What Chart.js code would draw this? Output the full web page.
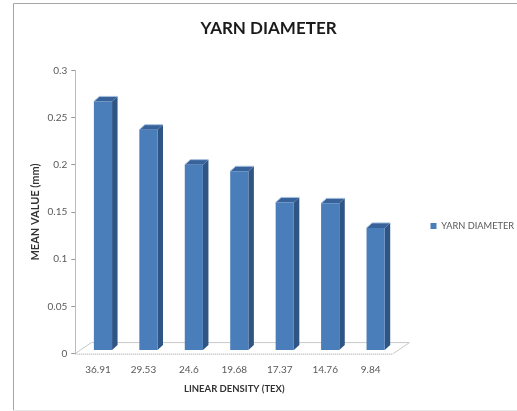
<!DOCTYPE html>
<html>
<head>
<meta charset="utf-8">
<style>
html, body { margin: 0; padding: 0; background: #fff; overflow: hidden; }
#wrap { width: 517px; height: 411px; }
#myChart { filter: blur(0.5px); }
</style>
<script src="https://cdn.jsdelivr.net/npm/chart.js@4"></script>
</head>
<body>
<div id="wrap"><canvas id="myChart" width="517" height="411"></canvas></div>
<script>
const categories = ['36.91', '29.53', '24.6', '19.68', '17.37', '14.76', '9.84'];
const yarnDiameter = [0.264, 0.234, 0.197, 0.19, 0.157, 0.156, 0.13];
const seriesName = 'YARN DIAMETER';

// old excel look: the 3d box sides, floor and picture frame are not in chart.js
const fake3d = {
    id: 'fake3d',
    afterLayout(chart) {
        // legend sits well clear of the plot in the original
        const l = chart.legend, dx = 426.5 - l.left, dy = 226 - (l.top + l.bottom) / 2;
        l.left += dx;
        l.right += dx;
        l.top += dy;
        l.bottom += dy;
        // title is centred on the whole picture, not on the plot
        chart.titleBlock.left += 8.5;
        chart.titleBlock.right += 8.5;
    },
    beforeDraw(chart) {
        const c = chart.ctx;
        c.save();
        c.strokeStyle = '#a6a6a6';
        c.lineWidth = 1;
        c.beginPath();
        c.moveTo(13.5, 411);
        c.lineTo(13.5, 3.5);
        c.lineTo(517, 3.5);
        c.stroke();
        c.strokeStyle = '#e8e8e8';
        c.beginPath();
        c.moveTo(13, 410.5);
        c.lineTo(517, 410.5);
        c.stroke();
        c.restore();
    },
    beforeDatasetsDraw(chart) {
        const c = chart.ctx, a = chart.chartArea;
        c.save();
        // floor
        c.strokeStyle = '#c8c8c8';
        c.lineWidth = 1;
        c.beginPath();
        c.moveTo(a.left, a.bottom);
        c.lineTo(a.left + 16, a.bottom - 11);
        c.lineTo(a.right + 16, a.bottom - 11);
        c.lineTo(a.right, a.bottom);
        c.stroke();
        c.setLineDash([1, 1]);
        c.strokeStyle = '#999';
        c.beginPath();
        c.moveTo(a.left, a.bottom + 0.5);
        c.lineTo(a.right, a.bottom + 0.5);
        c.stroke();
        c.setLineDash([]);
        // bars sit in the middle of the floor
        c.translate(5, -3);
        chart.getDatasetMeta(0).data.forEach(function(b) {
            const l = b.x - b.width / 2, r = b.x + b.width / 2;
            c.fillStyle = '#2f5584';
            c.beginPath();
            c.moveTo(r, b.y);
            c.lineTo(r + 5.5, b.y - 5);
            c.lineTo(r + 5.5, b.base - 5);
            c.lineTo(r, b.base);
            c.closePath();
            c.fill();
            c.fillStyle = '#37629a';
            c.strokeStyle = '#a9c2e0';
            c.beginPath();
            c.moveTo(l, b.y);
            c.lineTo(l + 5.5, b.y - 5);
            c.lineTo(r + 5.5, b.y - 5);
            c.lineTo(r, b.y);
            c.closePath();
            c.fill();
            c.beginPath();
            c.moveTo(l, b.y);
            c.lineTo(l + 5.5, b.y - 5);
            c.lineTo(r + 5.5, b.y - 5);
            c.stroke();
        });
    },
    afterDatasetsDraw(chart) {
        chart.ctx.restore();
    }
};

const ctx = document.getElementById('myChart');

new Chart(ctx, {
    type: 'bar',
    plugins: [fake3d],
    data: {
        labels: categories,
        datasets: [{
            label: seriesName,
            data: yarnDiameter,
            backgroundColor: '#4a7ebb',
            borderWidth: 0,
            categoryPercentage: 1,
            barPercentage: 0.4,
            clip: false
        }]
    },
    options: {
        responsive: false,
        animation: false,
        layout: { padding: { left: 29, right: 26, top: 18, bottom: 16 } },
        plugins: {
            title: {
                display: true,
                text: seriesName,
                color: '#1a1a1a',
                font: { family: 'Lato', size: 17, weight: 'bold' },
                padding: { top: 0, bottom: 32 }
            },
            legend: {
                position: 'right',
                labels: {
                    boxWidth: 6,
                    boxHeight: 6,
                    padding: 4,
                    color: '#595959',
                    font: { family: 'Lato', size: 9.25 }
                }
            },
            tooltip: { enabled: false }
        },
        scales: {
            x: {
                grid: { display: false },
                border: { display: false },
                ticks: { color: '#595959', font: { family: 'Lato', size: 10 }, padding: 2, maxRotation: 0 },
                title: {
                    display: true,
                    text: 'LINEAR DENSITY (TEX)',
                    color: '#333',
                    font: { family: 'Lato', size: 9.5, weight: 'bold' },
                    padding: { top: 6, bottom: 0 }
                }
            },
            y: {
                min: 0,
                max: 0.3,
                grid: { drawOnChartArea: false, tickLength: 4, color: '#999' },
                border: { color: '#bbb', dash: [1, 1] },
                ticks: {
                    stepSize: 0.05,
                    color: '#595959',
                    font: { family: 'Lato', size: 10 },
                    padding: 4,
                    callback: function(v) { return String(+v.toFixed(2)); }
                },
                title: {
                    display: true,
                    text: 'MEAN VALUE (mm)',
                    color: '#333',
                    font: { family: 'Lato', size: 11, weight: 'bold' },
                    padding: { top: 0, bottom: 0 }
                },
                afterFit(scale) { scale.width = 46.25; }
            }
        }
    }
});
</script>
</body>
</html>
